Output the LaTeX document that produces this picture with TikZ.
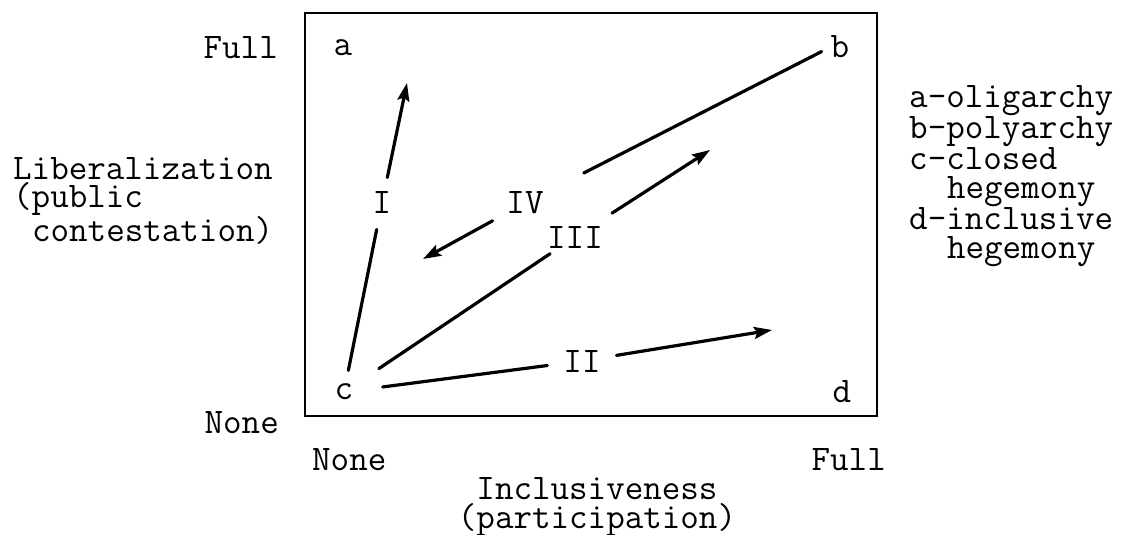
\documentclass[tikz,border=0pt]{standalone}
\usepackage{fontspec}
\usetikzlibrary{arrows.meta}
\tikzset{
  lbl/.style={inner sep=0pt,font=\ttfamily\fontsize{36}{28.5}\selectfont},
  seg/.style={line width=3.2pt,line cap=round},
  segarr/.style={seg,-{Stealth[length=18pt,width=12pt,inset=3pt]}},
}

\begin{document}
\begin{tikzpicture}[x=1pt,y=-1pt]
\useasboundingbox (0,0) rectangle (1124,535);
\draw[line width=2.4pt] (305,13) rectangle (877,416);
% corner regimes
\node[lbl] (a) at (343,48) {a};
\node[lbl] (b) at (840,47) {b};
\node[lbl] (c) at (344,392) {c};
\node[lbl] (d) at (842,392) {d};
% vertical axis
\node[lbl,anchor=east] (yfull) at (278,48) {Full};
\node[lbl,anchor=east] (ynone) at (279,423) {None};
\node[lbl,anchor=west,align=left] (ylab) at (13,201)
  {Liberalization\\(public\\\hspace*{0.525em}contestation)};
% horizontal axis
\node[lbl,anchor=west] (xnone) at (312,460) {None};
\node[lbl,anchor=east] (xfull) at (886,460) {Full};
\node[lbl,align=center] (xlab) at (597,507) {Inclusiveness\\(participation)};
% key
\node[lbl,anchor=west,align=left] (key) at (909,176)
  {a-oligarchy\\b-polyarchy\\c-closed\\\hspace*{1.05em}hegemony\\d-inclusive\\\hspace*{1.05em}hegemony};
% paths
\node[lbl] (lI) at (382,203) {I};
\node[lbl] (lII) at (582,361) {II};
\node[lbl] (lIII) at (575,237) {III};
\node[lbl] (lIV) at (525,203) {IV};
\coordinate (tI) at (407,83);
\coordinate (tII) at (772,330);
\coordinate (tIII) at (710,150);
\coordinate (tIV) at (423,259);
\foreach \l/\s/\e in {lI/22/27,lII/39/35,lIII/42/30}
  \draw[seg,shorten <=\s pt,shorten >=\e pt] (c.center) -- (\l.center);
\draw[seg,shorten <=10pt,shorten >=66pt] (b.west) -- (lIV.center);
\draw[segarr,shorten <=26pt] (lI.center) -- (tI);
\draw[segarr,shorten <=35pt] (lII.center) -- (tII);
\draw[segarr,shorten <=44pt] (lIII.center) -- (tIII);
\draw[segarr,shorten <=37pt] (lIV.center) -- (tIV);
\end{tikzpicture}
\end{document}
